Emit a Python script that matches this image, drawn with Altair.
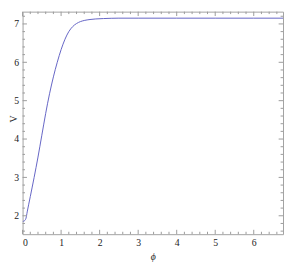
import altair as alt
import pandas as pd

# curve data
phi = [0, 0.03, 0.06, 0.09, 0.12, 0.2, 0.3, 0.4, 0.5, 0.6, 0.7, 0.8, 0.9, 1.0,
       1.1, 1.2, 1.3, 1.4, 1.5, 1.6, 1.75, 1.9, 2.1, 2.5, 3.0, 4.0, 5.0, 6.0, 6.76]
V = [1.85, 1.86, 1.88, 1.94, 2.1, 2.5, 3.0, 3.53, 4.1, 4.67, 5.18, 5.62, 6.0, 6.33,
     6.6, 6.8, 6.93, 7.01, 7.06, 7.09, 7.115, 7.13, 7.14, 7.15, 7.15, 7.15, 7.15, 7.15, 7.15]

x_major = [0, 1, 2, 3, 4, 5, 6]
x_minor = [round(i * 0.2, 1) for i in range(1, 34) if i % 5 != 0]
y_major = [2, 3, 4, 5, 6, 7]
y_minor = [round(1.6 + i * 0.2, 1) for i in range(0, 29) if round(1.6 + i * 0.2, 1) % 1 != 0]

W, H = 268, 229
XD = [0, 6.76]
YD = [1.52, 7.32]
TICK = "#9a9a9a"
FONT = "Liberation Serif, Times New Roman, DejaVu Serif, serif"

xs = alt.Scale(domain=XD, nice=False, zero=False)
ys = alt.Scale(domain=YD, nice=False, zero=False)

df = pd.DataFrame({"phi": phi, "V": V})

line = alt.Chart(df).mark_line(color="#6262c4", strokeWidth=1, interpolate="monotone", clip=True).encode(
    x=alt.X("phi:Q", scale=xs, title="ϕ",
            axis=alt.Axis(values=x_major, ticks=False, domain=False, grid=False, labelPadding=4,
                          labelFont=FONT, labelFontSize=10, labelColor="#222",
                          titleFont=FONT, titleFontStyle="italic", titleFontWeight="normal",
                          titleFontSize=10, titleColor="#222", titleY=26, titleBaseline="alphabetic")),
    y=alt.Y("V:Q", scale=ys, title="V",
            axis=alt.Axis(values=y_major, ticks=False, domain=False, grid=False, labelPadding=4,
                          labelFont=FONT, labelFontSize=10, labelColor="#222",
                          titleFont=FONT, titleFontWeight="normal", titleFontSize=10,
                          titleColor="#222", titleX=-4, titleY=110)),
)

dxM = pd.DataFrame({"t": x_major})
dxm = pd.DataFrame({"t": x_minor})
dyM = pd.DataFrame({"t": y_major})
dym = pd.DataFrame({"t": y_minor})

def xticks(d, ln):
    bottom = alt.Chart(d).mark_rule(color=TICK, strokeWidth=1).encode(
        x=alt.X("t:Q", scale=xs), y=alt.value(H), y2=alt.value(H - ln))
    top = alt.Chart(d).mark_rule(color=TICK, strokeWidth=1).encode(
        x=alt.X("t:Q", scale=xs), y=alt.value(0), y2=alt.value(ln))
    return [bottom, top]

def yticks(d, ln):
    left = alt.Chart(d).mark_rule(color=TICK, strokeWidth=1).encode(
        y=alt.Y("t:Q", scale=ys), x=alt.value(0), x2=alt.value(ln))
    right = alt.Chart(d).mark_rule(color=TICK, strokeWidth=1).encode(
        y=alt.Y("t:Q", scale=ys), x=alt.value(W), x2=alt.value(W - ln))
    return [left, right]

layers = [line] + xticks(dxM, 4.5) + xticks(dxm, 2.5) + yticks(dyM, 4.5) + yticks(dym, 2.5)

chart = alt.layer(*layers).properties(
    width=W, height=H,
    autosize=alt.AutoSizeParams(type="none"),
    padding={"left": 15, "top": 0, "right": 1, "bottom": 30},
).configure_view(stroke="#a0a0a0", strokeWidth=1)

chart.save("out.html", embed_options={"renderer": "svg", "actions": False})
